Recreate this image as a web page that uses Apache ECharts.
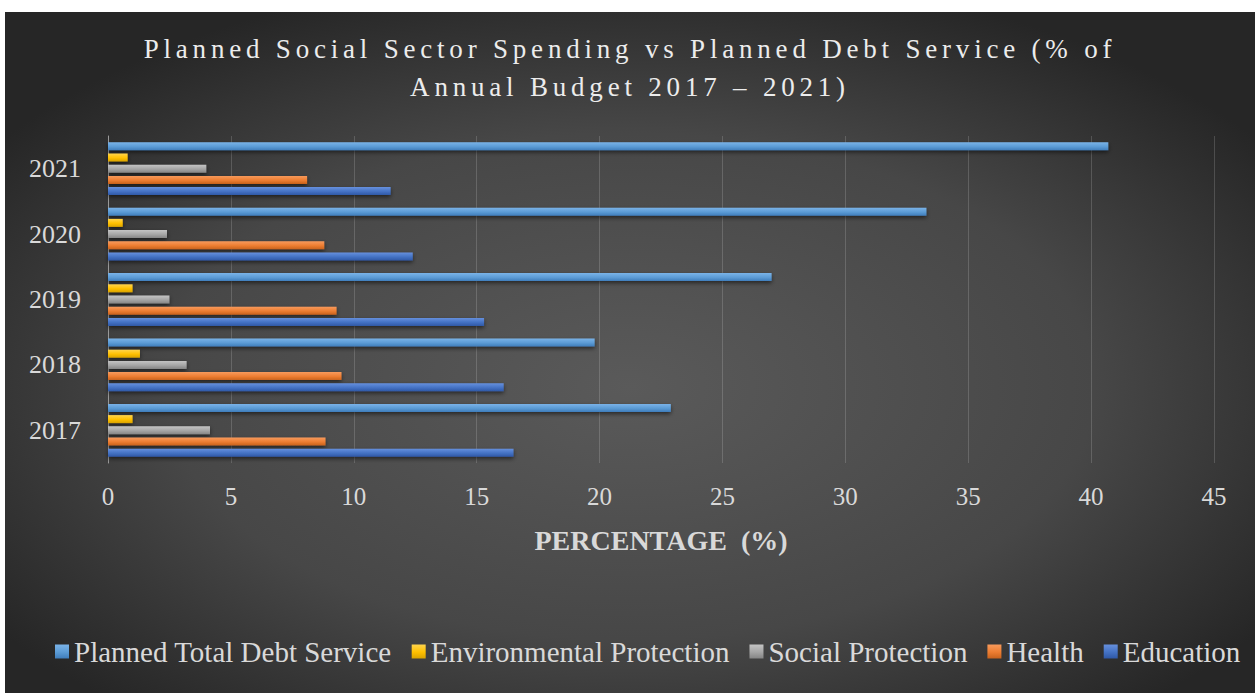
<!DOCTYPE html>
<html>
<head>
<meta charset="utf-8">
<script src="https://cdn.jsdelivr.net/npm/echarts@6/dist/echarts.min.js"></script>
<style>
  html, body { margin: 0; padding: 0; background: #ffffff; }
  #main { position: absolute; left: 5px; top: 12px; width: 1250px; height: 681px; }
  /* the title is drawn letter-spaced in the original */
  #main svg text[style*="27px"] { letter-spacing: 4.8px; }
</style>
</head>
<body>
<div id="main"></div>
<script>
// data (% of annual budget)
var years = ['2017', '2018', '2019', '2020', '2021'];
var education = [16.5, 16.1, 15.3, 12.4, 11.5];
var health = [8.85, 9.5, 9.3, 8.8, 8.1];
var socialProtection = [4.15, 3.2, 2.5, 2.4, 4.0];
var envProtection = [1.0, 1.3, 1.0, 0.6, 0.8];
var debtService = [22.9, 19.8, 27.0, 33.3, 40.7];
var legendNames = ['Planned Total Debt Service', 'Environmental Protection', 'Social Protection', 'Health', 'Education'];

var font = 'Liberation Serif';

function barFill(light, base, dark) {
  return {
    type: 'linear', x: 0, y: 0, x2: 0, y2: 1,
    colorStops: [
      { offset: 0, color: light },
      { offset: 0.55, color: base },
      { offset: 1, color: dark }
    ]
  };
}

function barSeries(name, data, fill) {
  return {
    name: name,
    type: 'bar',
    data: data,
    barWidth: 8,
    barGap: '40%',
    itemStyle: {
      color: fill,
      shadowColor: 'rgba(0,0,0,0.55)',
      shadowBlur: 4,
      shadowOffsetY: 2
    },
    emphasis: { disabled: true }
  };
}

var myChart = echarts.init(document.getElementById('main'), null, { renderer: 'svg' });

var option = {
  backgroundColor: {
    type: 'radial', x: 0.5, y: 0.55, r: 0.62,
    colorStops: [
      { offset: 0, color: '#5a5a5a' },
      { offset: 0.6, color: '#474747' },
      { offset: 1, color: '#262626' }
    ]
  },
  textStyle: { fontFamily: font },
  color: ['#5b9bd5', '#ffc000', '#a5a5a5', '#ed7d31', '#4472c4'],
  title: {
    text: 'Planned Social Sector Spending vs Planned Debt Service (% of\nAnnual Budget 2017 – 2021)',
    left: 'center',
    top: 13,
    textStyle: {
      fontFamily: font,
      fontSize: 27,
      fontWeight: 'normal',
      color: '#ececec',
      lineHeight: 38
    }
  },
  legend: {
    data: legendNames,
    left: 45,
    top: 620,
    itemWidth: 14,
    itemHeight: 14,
    itemGap: 20,
    icon: 'rect',
    selectedMode: false,
    textStyle: { fontFamily: font, fontSize: 29, color: '#d9d9d9' }
  },
  grid: { left: 103, right: 41, top: 124, bottom: 230, containLabel: false },
  xAxis: {
    type: 'value',
    min: 0,
    max: 45,
    interval: 5,
    name: 'PERCENTAGE  (%)',
    nameLocation: 'middle',
    nameGap: 63,
    nameTextStyle: { fontFamily: font, fontSize: 28, fontWeight: 'bold', color: '#d9d9d9' },
    axisLine: { show: false },
    axisTick: { show: false },
    axisLabel: { fontFamily: font, fontSize: 25, color: '#d9d9d9', margin: 21 },
    splitLine: { lineStyle: { color: 'rgba(255,255,255,0.16)', width: 1 } }
  },
  yAxis: {
    type: 'category',
    data: years,
    axisLine: { show: true, lineStyle: { color: '#9a9a9a', width: 1 } },
    axisTick: { show: false },
    axisLabel: { fontFamily: font, fontSize: 26, color: '#d9d9d9', margin: 27 },
    splitLine: { show: false }
  },
  series: [
    barSeries('Planned Total Debt Service', debtService, barFill('#7ab3e8', '#5b9bd5', '#3f7dbb')),
    barSeries('Environmental Protection', envProtection, barFill('#ffd44d', '#ffc000', '#d9a300')),
    barSeries('Social Protection', socialProtection, barFill('#c4c4c4', '#a5a5a5', '#858585')),
    barSeries('Health', health, barFill('#f79a5c', '#ed7d31', '#c8621d')),
    barSeries('Education', education, barFill('#6690dd', '#4472c4', '#2f58a6'))
  ]
};

myChart.setOption(option);
</script>
</body>
</html>
